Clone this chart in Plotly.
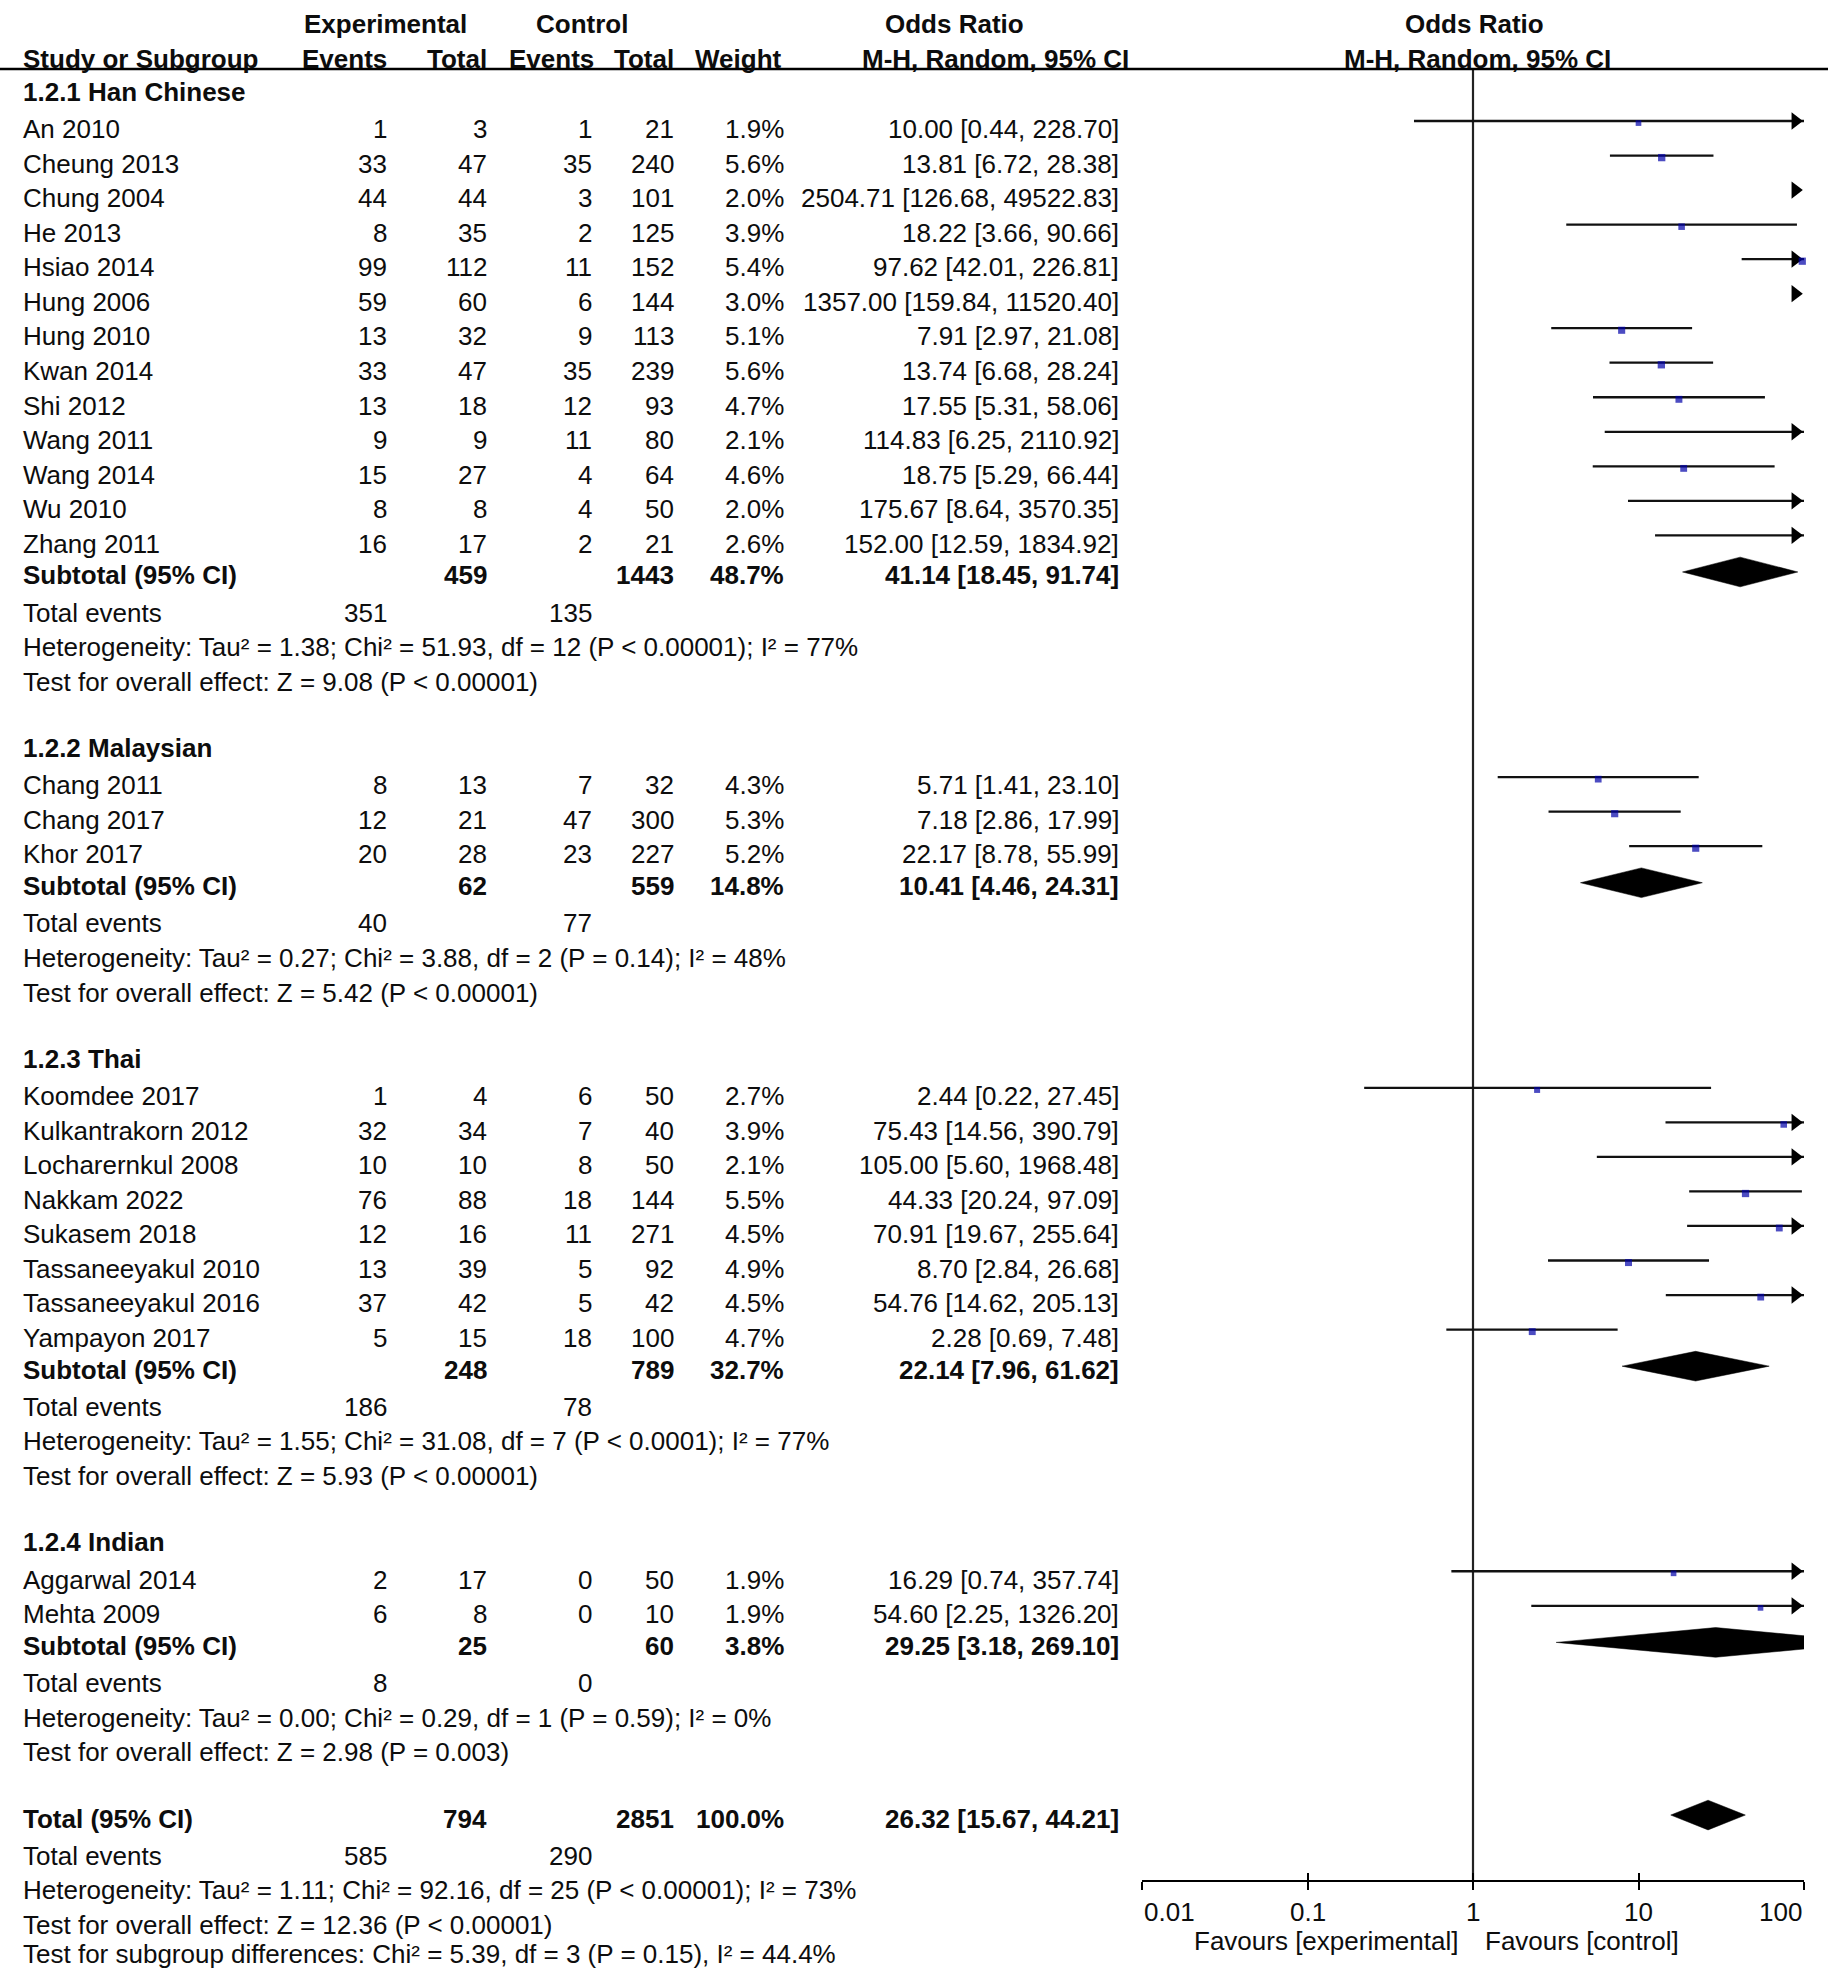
import math
import plotly.graph_objects as go

# ---------------- data ----------------
group_titles = ["1.2.1 Han Chinese", "1.2.2 Malaysian", "1.2.3 Thai", "1.2.4 Indian"]

han_studies = ["An 2010", "Cheung 2013", "Chung 2004", "He 2013", "Hsiao 2014", "Hung 2006",
               "Hung 2010", "Kwan 2014", "Shi 2012", "Wang 2011", "Wang 2014", "Wu 2010", "Zhang 2011"]
han_exp_events = [1, 33, 44, 8, 99, 59, 13, 33, 13, 9, 15, 8, 16]
han_exp_total = [3, 47, 44, 35, 112, 60, 32, 47, 18, 9, 27, 8, 17]
han_ctl_events = [1, 35, 3, 2, 11, 6, 9, 35, 12, 11, 4, 4, 2]
han_ctl_total = [21, 240, 101, 125, 152, 144, 113, 239, 93, 80, 64, 50, 21]
han_weight = [1.9, 5.6, 2.0, 3.9, 5.4, 3.0, 5.1, 5.6, 4.7, 2.1, 4.6, 2.0, 2.6]
han_or = [10.00, 13.81, 2504.71, 18.22, 97.62, 1357.00, 7.91, 13.74, 17.55, 114.83, 18.75, 175.67, 152.00]
han_lo = [0.44, 6.72, 126.68, 3.66, 42.01, 159.84, 2.97, 6.68, 5.31, 6.25, 5.29, 8.64, 12.59]
han_hi = [228.70, 28.38, 49522.83, 90.66, 226.81, 11520.40, 21.08, 28.24, 58.06, 2110.92, 66.44, 3570.35, 1834.92]

mal_studies = ["Chang 2011", "Chang 2017", "Khor 2017"]
mal_exp_events = [8, 12, 20]
mal_exp_total = [13, 21, 28]
mal_ctl_events = [7, 47, 23]
mal_ctl_total = [32, 300, 227]
mal_weight = [4.3, 5.3, 5.2]
mal_or = [5.71, 7.18, 22.17]
mal_lo = [1.41, 2.86, 8.78]
mal_hi = [23.10, 17.99, 55.99]

thai_studies = ["Koomdee 2017", "Kulkantrakorn 2012", "Locharernkul 2008", "Nakkam 2022", "Sukasem 2018",
                "Tassaneeyakul 2010", "Tassaneeyakul 2016", "Yampayon 2017"]
thai_exp_events = [1, 32, 10, 76, 12, 13, 37, 5]
thai_exp_total = [4, 34, 10, 88, 16, 39, 42, 15]
thai_ctl_events = [6, 7, 8, 18, 11, 5, 5, 18]
thai_ctl_total = [50, 40, 50, 144, 271, 92, 42, 100]
thai_weight = [2.7, 3.9, 2.1, 5.5, 4.5, 4.9, 4.5, 4.7]
thai_or = [2.44, 75.43, 105.00, 44.33, 70.91, 8.70, 54.76, 2.28]
thai_lo = [0.22, 14.56, 5.60, 20.24, 19.67, 2.84, 14.62, 0.69]
thai_hi = [27.45, 390.79, 1968.48, 97.09, 255.64, 26.68, 205.13, 7.48]

ind_studies = ["Aggarwal 2014", "Mehta 2009"]
ind_exp_events = [2, 6]
ind_exp_total = [17, 8]
ind_ctl_events = [0, 0]
ind_ctl_total = [50, 10]
ind_weight = [1.9, 1.9]
ind_or = [16.29, 54.60]
ind_lo = [0.74, 2.25]
ind_hi = [357.74, 1326.20]

sub_exp_total = [459, 62, 248, 25]
sub_ctl_total = [1443, 559, 789, 60]
sub_weight = [48.7, 14.8, 32.7, 3.8]
sub_or = [41.14, 10.41, 22.14, 29.25]
sub_lo = [18.45, 4.46, 7.96, 3.18]
sub_hi = [91.74, 24.31, 61.62, 269.10]
sub_exp_events = [351, 40, 186, 8]
sub_ctl_events = [135, 77, 78, 0]
sub_het = [
    "Heterogeneity: Tau² = 1.38; Chi² = 51.93, df = 12 (P < 0.00001); I² = 77%",
    "Heterogeneity: Tau² = 0.27; Chi² = 3.88, df = 2 (P = 0.14); I² = 48%",
    "Heterogeneity: Tau² = 1.55; Chi² = 31.08, df = 7 (P < 0.0001); I² = 77%",
    "Heterogeneity: Tau² = 0.00; Chi² = 0.29, df = 1 (P = 0.59); I² = 0%",
]
sub_z = [
    "Test for overall effect: Z = 9.08 (P < 0.00001)",
    "Test for overall effect: Z = 5.42 (P < 0.00001)",
    "Test for overall effect: Z = 5.93 (P < 0.00001)",
    "Test for overall effect: Z = 2.98 (P = 0.003)",
]

total_exp_total = 794
total_ctl_total = 2851
total_weight = 100.0
total_or = 26.32
total_lo = 15.67
total_hi = 44.21
total_exp_events = 585
total_ctl_events = 290
total_het = "Heterogeneity: Tau² = 1.11; Chi² = 92.16, df = 25 (P < 0.00001); I² = 73%"
total_z = "Test for overall effect: Z = 12.36 (P < 0.00001)"
subgroup_diff = "Test for subgroup differences: Chi² = 5.39, df = 3 (P = 0.15), I² = 44.4%"

tick_vals = [0.01, 0.1, 1, 10, 100]
tick_text = ["0.01", "0.1", "1", "10", "100"]
favours_left = "Favours [experimental]"
favours_right = "Favours [control]"

groups = [
    (han_studies, han_exp_events, han_exp_total, han_ctl_events, han_ctl_total, han_weight, han_or, han_lo, han_hi),
    (mal_studies, mal_exp_events, mal_exp_total, mal_ctl_events, mal_ctl_total, mal_weight, mal_or, mal_lo, mal_hi),
    (thai_studies, thai_exp_events, thai_exp_total, thai_ctl_events, thai_ctl_total, thai_weight, thai_or, thai_lo, thai_hi),
    (ind_studies, ind_exp_events, ind_exp_total, ind_ctl_events, ind_ctl_total, ind_weight, ind_or, ind_lo, ind_hi),
]

# ---------------- layout constants ----------------
W, H = 1828, 1969
ROW0 = 129.3          # pixel centre of first study row
ROWH = 34.53          # row pitch in pixels
def prow(px):
    return (px - ROW0) / ROWH

Y_TOP = prow(0)
Y_BOT = prow(H)
AX_L, AX_R = 1142, 1804
AXIS_PX = 1881
HDR_LINE_ROW = prow(69)
AXIS_ROW = prow(AXIS_PX)
XMIN, XMAX = 0.01, 100
PPD = (AX_R - AX_L) / 4.0

FONT = "Liberation Sans, Arial, Helvetica, sans-serif"
FS = 26
TXT = "#0d0d0d"
BLUE = "#0000a8"

NAME_X, EE_X, ET_X, CE_X, CT_X, WT_X, OR_X = 21, 389, 489, 594, 676, 786, 1121
BOLD_DY = -0.08
LINE_DY = -0.24
SQ_DY = -0.18
DIA_DY = -0.18
DIA_H = 0.43

annotations = []
def ann(xpx, row, text, anchor="right", bold=False):
    annotations.append(dict(
        xref="paper", x=xpx / W, yref="y", y=row,
        text=("<b>%s</b>" % text) if bold else text,
        xanchor=anchor, yanchor="middle", showarrow=False,
        font=dict(family=FONT, size=FS, color=TXT)))

def fmt_or(o, l, h):
    return "%.2f [%.2f, %.2f]" % (o, l, h)

# headers
hr1, hr2 = prow(24), prow(59)
ann(385, hr1, "Experimental", "center", True)
ann(582, hr1, "Control", "center", True)
ann(954, hr1, "Odds Ratio", "center", True)
ann(1474, hr1, "Odds Ratio", "center", True)
ann(NAME_X, hr2, "Study or Subgroup", "left", True)
ann(EE_X, hr2, "Events", "right", True)
ann(ET_X, hr2, "Total", "right", True)
ann(CE_X + 2, hr2, "Events", "right", True)
ann(CT_X, hr2, "Total", "right", True)
ann(WT_X - 2, hr2, "Weight", "right", True)
ann(1131, hr2, "M-H, Random, 95% CI", "right", True)
ann(1477, hr2, "M-H, Random, 95% CI", "center", True)

# forest mark collections
ci_x, ci_y = [], []
arr_x, arr_y = [], []
sq_x, sq_y, sq_s = [], [], []
diamonds = []

arrow_size = 15
tip = arrow_size / 2 * 2 / math.sqrt(3)
arrow_pos = 10 ** (math.log10(XMAX) - tip / PPD)

r = -1
for g, grp in enumerate(groups):
    studies, ee, et, ce, ct, wt, orv, lo, hi = grp
    ann(NAME_X, r + BOLD_DY, group_titles[g], "left", True)
    r += 1
    for i in range(len(studies)):
        ann(NAME_X, r, studies[i], "left")
        ann(EE_X, r, str(ee[i]))
        ann(ET_X, r, str(et[i]))
        ann(CE_X, r, str(ce[i]))
        ann(CT_X, r, str(ct[i]))
        ann(WT_X, r, "%.1f%%" % wt[i])
        ann(OR_X, r, fmt_or(orv[i], lo[i], hi[i]))
        l = max(lo[i], XMIN)
        h = min(hi[i], XMAX)
        if l < h:
            ci_x += [l, h, None]
            ci_y += [r + LINE_DY, r + LINE_DY, None]
        if hi[i] > XMAX:
            arr_x.append(arrow_pos)
            arr_y.append(r + LINE_DY)
        if XMIN <= orv[i] <= XMAX:
            sq_x.append(orv[i])
            sq_y.append(r + SQ_DY)
            sq_s.append(4.8 + 0.45 * wt[i])
        r += 1
    # subtotal
    ann(NAME_X, r + BOLD_DY, "Subtotal (95% CI)", "left", True)
    ann(ET_X, r + BOLD_DY, str(sub_exp_total[g]), "right", True)
    ann(CT_X, r + BOLD_DY, str(sub_ctl_total[g]), "right", True)
    ann(WT_X, r + BOLD_DY, "%.1f%%" % sub_weight[g], "right", True)
    ann(OR_X, r + BOLD_DY, fmt_or(sub_or[g], sub_lo[g], sub_hi[g]), "right", True)
    diamonds.append((sub_or[g], sub_lo[g], sub_hi[g], r + DIA_DY))
    r += 1
    ann(NAME_X, r, "Total events", "left")
    ann(EE_X, r, str(sub_exp_events[g]))
    ann(CE_X, r, str(sub_ctl_events[g]))
    r += 1
    ann(NAME_X, r, sub_het[g], "left")
    r += 1
    ann(NAME_X, r, sub_z[g], "left")
    r += 2

# overall total
ann(NAME_X, r + BOLD_DY, "Total (95% CI)", "left", True)
ann(ET_X, r + BOLD_DY, str(total_exp_total), "right", True)
ann(CT_X, r + BOLD_DY, str(total_ctl_total), "right", True)
ann(WT_X, r + BOLD_DY, "%.1f%%" % total_weight, "right", True)
ann(OR_X, r + BOLD_DY, fmt_or(total_or, total_lo, total_hi), "right", True)
diamonds.append((total_or, total_lo, total_hi, r + DIA_DY))
r += 1
ann(NAME_X, r, "Total events", "left")
ann(EE_X, r, str(total_exp_events))
ann(CE_X, r, str(total_ctl_events))
r += 1
ann(NAME_X, r, total_het, "left")
r += 1
ann(NAME_X, r, total_z, "left")
r += 1
ann(NAME_X, r - 0.15, subgroup_diff, "left")

# axis labels
tick_row = prow(1912)
for v, t in zip(tick_vals, tick_text):
    anchor = "left" if v == tick_vals[0] else ("right" if v == tick_vals[-1] else "center")
    annotations.append(dict(xref="x2", x=math.log10(v), yref="y", y=tick_row, text=t,
                            xanchor=anchor, yanchor="middle", showarrow=False,
                            font=dict(family=FONT, size=FS, color=TXT)))
fav_row = prow(1941)
annotations.append(dict(xref="x2", x=0, yref="y", y=fav_row, text=favours_left, xanchor="right",
                        xshift=-13, yanchor="middle", showarrow=False,
                        font=dict(family=FONT, size=FS, color=TXT)))
annotations.append(dict(xref="x2", x=0, yref="y", y=fav_row, text=favours_right, xanchor="left",
                        xshift=10, yanchor="middle", showarrow=False,
                        font=dict(family=FONT, size=FS, color=TXT)))

# ---------------- traces ----------------
fig = go.Figure()

# line of no effect
fig.add_trace(go.Scatter(x=[1, 1], y=[HDR_LINE_ROW, AXIS_ROW], mode="lines",
                         line=dict(color="#222222", width=2.2), xaxis="x2", yaxis="y",
                         hoverinfo="skip"))
# confidence intervals
fig.add_trace(go.Scatter(x=ci_x, y=ci_y, mode="lines", line=dict(color="#111111", width=2.3),
                         xaxis="x2", yaxis="y", hoverinfo="skip"))
# arrows for truncated CIs
fig.add_trace(go.Scatter(x=arr_x, y=arr_y, mode="markers", cliponaxis=False,
                         marker=dict(symbol="triangle-right", size=arrow_size, color="#000000",
                                     line=dict(width=0)),
                         xaxis="x2", yaxis="y", hoverinfo="skip"))
# point estimates
fig.add_trace(go.Scatter(x=sq_x, y=sq_y, mode="markers", cliponaxis=False,
                         marker=dict(symbol="square", size=sq_s, color=BLUE, line=dict(width=0)),
                         xaxis="x2", yaxis="y", hoverinfo="skip"))
# diamonds
for o, l, h, yy in diamonds:
    o_l, hi_l = math.log10(o), math.log10(h)
    pts_x = [l, o]
    pts_y = [yy, yy - DIA_H]
    if h > XMAX:
        frac = (math.log10(XMAX) - o_l) / (hi_l - o_l)
        hh = DIA_H * (1 - frac)
        pts_x += [XMAX, XMAX]
        pts_y += [yy - hh, yy + hh]
    else:
        pts_x += [h]
        pts_y += [yy]
    pts_x += [o, l]
    pts_y += [yy + DIA_H, yy]
    fig.add_trace(go.Scatter(x=pts_x, y=pts_y, mode="lines", fill="toself",
                             fillcolor="#000000", line=dict(color="#000000", width=0.5),
                             xaxis="x2", yaxis="y", hoverinfo="skip"))
# helper trace for the inward tick axis
fig.add_trace(go.Scatter(x=[1], y=[AXIS_ROW], mode="markers", marker=dict(opacity=0),
                         xaxis="x3", yaxis="y", hoverinfo="skip"))

ax_common = dict(type="log", range=[-2, 2], domain=[AX_L / W, AX_R / W], anchor="free",
                 position=1 - AXIS_PX / H, tickvals=tick_vals, showticklabels=False,
                 showgrid=False, zeroline=False, tickwidth=2, tickcolor="#000000", ticklen=8)

fig.update_layout(
    width=W, height=H, margin=dict(l=0, r=0, t=0, b=0),
    paper_bgcolor="white", plot_bgcolor="rgba(0,0,0,0)", showlegend=False,
    xaxis2=dict(**ax_common, ticks="outside", showline=True, linecolor="#000000", linewidth=2),
    xaxis3=dict(**ax_common, ticks="inside", showline=False, overlaying="x2"),
    yaxis=dict(range=[Y_BOT, Y_TOP], domain=[0, 1], anchor="free", position=0, visible=False),
    annotations=annotations,
    shapes=[dict(type="line", xref="paper", x0=0, x1=1, yref="y", y0=HDR_LINE_ROW, y1=HDR_LINE_ROW,
                 line=dict(color="#000000", width=2.6))],
)

fig.write_html("out.html", config={"displayModeBar": False},
               post_script="document.body.style.margin='0';document.body.style.overflow='hidden';")
